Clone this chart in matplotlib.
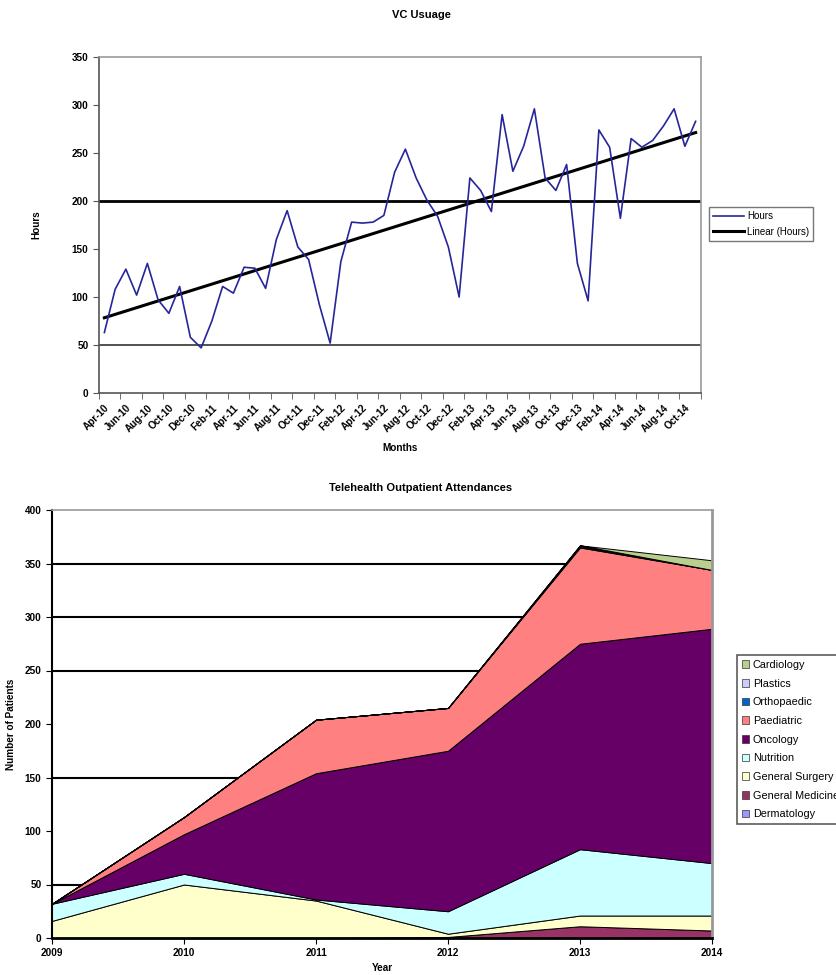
import numpy as np
import matplotlib
matplotlib.use("Agg")
import matplotlib.pyplot as plt
from matplotlib.patches import Patch

plt.rcParams["font.family"] = ["Liberation Sans", "DejaVu Sans"]

# --- VC usage (monthly hours, Apr-10 .. Nov-14) ---
month_labels = [
    "Apr-10", "May-10", "Jun-10", "Jul-10", "Aug-10", "Sep-10", "Oct-10", "Nov-10", "Dec-10",
    "Jan-11", "Feb-11", "Mar-11", "Apr-11", "May-11", "Jun-11", "Jul-11", "Aug-11", "Sep-11",
    "Oct-11", "Nov-11", "Dec-11", "Jan-12", "Feb-12", "Mar-12", "Apr-12", "May-12", "Jun-12",
    "Jul-12", "Aug-12", "Sep-12", "Oct-12", "Nov-12", "Dec-12", "Jan-13", "Feb-13", "Mar-13",
    "Apr-13", "May-13", "Jun-13", "Jul-13", "Aug-13", "Sep-13", "Oct-13", "Nov-13", "Dec-13",
    "Jan-14", "Feb-14", "Mar-14", "Apr-14", "May-14", "Jun-14", "Jul-14", "Aug-14", "Sep-14",
    "Oct-14", "Nov-14",
]
hours = [
    63, 108, 129, 102, 135, 97, 83, 111, 58,
    47, 75, 111, 104, 131, 130, 109, 160, 190,
    152, 139, 92, 52, 137, 178, 177, 178, 185,
    230, 254, 224, 201, 184, 152, 100, 224, 211,
    189, 290, 231, 257, 296, 224, 211, 238, 135,
    96, 274, 256, 182, 265, 256, 263, 278, 296,
    257, 283,
]
hour_refs = [50, 200]

# --- Telehealth outpatient attendances ---
years = [2009, 2010, 2011, 2012, 2013, 2014]
dermatology = [0, 0, 0, 0, 0, 0]
general_medicine = [0, 0, 0, 1, 11, 7]
general_surgery = [16, 50, 35, 3, 10, 14]
nutrition = [16, 10, 1, 21, 62, 49]
oncology = [0, 37, 118, 150, 192, 219]
paediatric = [0, 16, 50, 40, 90, 55]
orthopaedic = [0, 0, 0, 0, 1, 0]
plastics = [0, 0, 0, 0, 1, 0]
cardiology = [0, 0, 0, 0, 0, 9]
specialties = ["Dermatology", "General Medicine", "General Surgery", "Nutrition",
               "Oncology", "Paediatric", "Orthopaedic", "Plastics", "Cardiology"]
spec_colors = ["#9999FF", "#993366", "#FFFFCC", "#CCFFFF", "#660066",
               "#FF8080", "#0066CC", "#CCCCFF", "#B9CF8E"]
patient_grid = [50, 150, 250, 300, 350]

FS = 7.2

fig = plt.figure(figsize=(8.37, 9.75), dpi=100)

# ---------------- top chart ----------------
ax1 = fig.add_axes([99 / 837, 1 - 393 / 975, 602 / 837, 336 / 975])
x = np.arange(len(hours))
for v in hour_refs:
    ax1.axhline(v, color="black" if v == 200 else "#333333",
                lw=2.0 if v == 200 else 1.2, zorder=1)
ax1.plot(x, hours, color="#26269A", lw=1.2, label="Hours", zorder=3)
m, c = np.polyfit(x, hours, 1)
ax1.plot(x, m * x + c, color="black", lw=2.2, label="Linear (Hours)", zorder=2)

ax1.set_xlim(-0.5, len(hours) - 0.5)
ax1.set_ylim(0, 350)
ax1.set_yticks(np.arange(0, 351, 50))
ax1.set_xticks(x[::2])
ax1.set_xticklabels(month_labels[::2], rotation=45, ha="right", rotation_mode="anchor",
                    fontsize=FS, fontweight="bold")
ax1.set_xticks(np.arange(-0.5, len(hours), 2), minor=True)
ax1.tick_params(axis="x", which="major", length=0, pad=7)
ax1.tick_params(axis="x", which="minor", length=4, color="#555555")
ax1.tick_params(axis="y", labelsize=FS, length=4, color="#555555")
for t in ax1.get_yticklabels():
    t.set_fontweight("bold")
for side in ["top", "right"]:
    ax1.spines[side].set_color("#999999")
    ax1.spines[side].set_linewidth(1.2)
for side in ["left", "bottom"]:
    ax1.spines[side].set_color("#555555")
    ax1.spines[side].set_linewidth(1.2)
ax1.set_ylabel("Hours", fontsize=FS, fontweight="bold", labelpad=22)
ax1.set_xlabel("Months", fontsize=FS, fontweight="bold", labelpad=7)
fig.text(421 / 837, 1 - 15 / 975, "VC Usuage", ha="center", va="center",
         fontsize=8, fontweight="bold")
leg1 = ax1.legend(loc="upper left", bbox_to_anchor=(709 / 837, 1 - 207 / 975),
                  bbox_transform=fig.transFigure, fontsize=7, frameon=True,
                  fancybox=False, handlelength=3.2, borderpad=0.45, labelspacing=0.55,
                  handletextpad=0.25, borderaxespad=0)
leg1.get_frame().set_edgecolor("#555555")
leg1.get_frame().set_linewidth(1.0)

# ---------------- bottom chart ----------------
ax2 = fig.add_axes([52 / 837, 1 - 938 / 975, 660 / 837, 428 / 975])
for v in patient_grid:
    ax2.axhline(v, color="black", lw=1.5, zorder=1)
series = [dermatology, general_medicine, general_surgery, nutrition, oncology,
          paediatric, orthopaedic, plastics, cardiology]
ax2.stackplot(years, *series, colors=spec_colors, edgecolor="black", linewidth=0.7,
              zorder=2)
ax2.set_xlim(years[0], years[-1])
ax2.set_ylim(0, 400)
ax2.set_yticks(np.arange(0, 401, 50))
ax2.set_xticks(years)
ax2.tick_params(axis="both", labelsize=FS, length=4)
for t in ax2.get_xticklabels() + ax2.get_yticklabels():
    t.set_fontweight("bold")
ax2.spines["top"].set_color("#999999")
ax2.spines["top"].set_linewidth(1.2)
ax2.spines["right"].set_color("#999999")
ax2.spines["right"].set_linewidth(2.0)
ax2.spines["left"].set_linewidth(1.5)
ax2.spines["bottom"].set_linewidth(2.0)
ax2.set_ylabel("Number of Patients", fontsize=FS, fontweight="bold", labelpad=6)
ax2.set_xlabel("Year", fontsize=FS, fontweight="bold", labelpad=3)
fig.text(421 / 837, 1 - 488 / 975, "Telehealth Outpatient Attendances", ha="center",
         va="center", fontsize=8, fontweight="bold")

handles = [Patch(facecolor=col, edgecolor="#333333", linewidth=0.5, label=name)
           for name, col in zip(specialties, spec_colors)]
leg2 = ax2.legend(handles=handles[::-1], loc="upper left",
                  bbox_to_anchor=(737 / 837, 1 - 655 / 975),
                  bbox_transform=fig.transFigure, fontsize=7.8, frameon=True,
                  fancybox=False, handlelength=0.7, handleheight=0.7,
                  handletextpad=0.3, labelspacing=0.8, borderpad=0.45, borderaxespad=0)
leg2.get_frame().set_edgecolor("#333333")
leg2.get_frame().set_linewidth(1.2)

fig.savefig("out.png", dpi=100)
